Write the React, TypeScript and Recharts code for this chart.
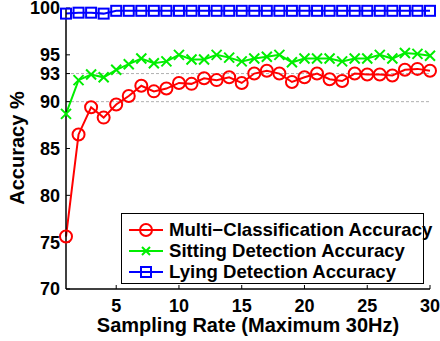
import React from "react";
import {
  LineChart,
  Line,
  XAxis,
  YAxis,
  ReferenceLine,
  Legend,
  Label,
} from "recharts";

// sampling rate (Hz) on the x axis
const rates = [
  1, 2, 3, 4, 5, 6, 7, 8, 9, 10, 11, 12, 13, 14, 15, 16, 17, 18, 19, 20, 21,
  22, 23, 24, 25, 26, 27, 28, 29, 30,
];

const multiAcc = [
  75.6, 86.5, 89.4, 88.3, 89.7, 90.6, 91.7, 91.1, 91.4, 92.0, 91.9, 92.5, 92.3,
  92.6, 92.0, 93.0, 93.3, 93.0, 92.1, 92.6, 93.0, 92.4, 92.2, 93.0, 92.9, 92.9,
  92.8, 93.4, 93.5, 93.3,
];

const sittingAcc = [
  88.7, 92.3, 92.9, 92.6, 93.4, 94.0, 94.6, 94.1, 94.3, 95.0, 94.5, 94.5, 95.0,
  94.7, 94.3, 94.6, 94.8, 95.0, 94.2, 94.6, 94.6, 94.6, 94.3, 94.6, 94.6, 95.0,
  94.6, 95.2, 95.1, 94.9,
];

const lyingAcc = [
  99.4, 99.5, 99.5, 99.4, 99.7, 99.7, 99.7, 99.7, 99.7, 99.7, 99.7, 99.7, 99.7,
  99.7, 99.7, 99.7, 99.7, 99.7, 99.7, 99.7, 99.7, 99.7, 99.7, 99.7, 99.7, 99.7,
  99.7, 99.7, 99.7, 99.7,
];

const xTicks = [5, 10, 15, 20, 25, 30];
const yTicks = [70, 75, 80, 85, 90, 93, 95, 100];
const gridLevels = [90, 93];

const seriesNames = [
  "Multi\u2212Classification Accuracy",
  "Sitting Detection Accuracy",
  "Lying Detection Accuracy",
];

const RED = "#ff0000";
const GREEN = "#00ee00";
const BLUE = "#0000ff";
const FONT = '"Liberation Sans", Arial, Helvetica, sans-serif';

const data = rates.map((r, i) => ({
  rate: r,
  multi: multiAcc[i],
  sitting: sittingAcc[i],
  lying: lyingAcc[i],
}));

const CrossDot = (props: any) => {
  const { cx, cy } = props;
  if (cx == null || cy == null) return null;
  const s = 5;
  return (
    <path
      d={`M${cx - s},${cy - s}L${cx + s},${cy + s}M${cx - s},${cy + s}L${cx + s},${cy - s}`}
      stroke={GREEN}
      strokeWidth={2}
      fill="none"
    />
  );
};

const SquareDot = (props: any) => {
  const { cx, cy } = props;
  if (cx == null || cy == null) return null;
  return (
    <rect
      x={cx - 5}
      y={cy - 5}
      width={10}
      height={10}
      fill="none"
      stroke={BLUE}
      strokeWidth={2}
    />
  );
};

function LegendIcon({ kind, color }: { kind: string; color: string }) {
  return (
    <svg width={36} height={16} style={{ marginRight: 5, flexShrink: 0 }}>
      <line x1={1} y1={8} x2={35} y2={8} stroke={color} strokeWidth={2} />
      {kind === "circle" && (
        <circle cx={18} cy={8} r={6} fill="none" stroke={color} strokeWidth={2} />
      )}
      {kind === "cross" && (
        <path d="M14,4L22,12M14,12L22,4" stroke={color} strokeWidth={2} />
      )}
      {kind === "square" && (
        <rect x={13} y={3} width={10} height={10} fill="none" stroke={color} strokeWidth={2} />
      )}
    </svg>
  );
}

const legendRows = [
  { kind: "circle", color: RED },
  { kind: "cross", color: GREEN },
  { kind: "square", color: BLUE },
];

function LegendBox() {
  return (
    <div
      style={{
        boxSizing: "border-box",
        width: 303,
        height: 71,
        border: "1.5px solid #000",
        background: "#fff",
        padding: "5px 0 0 6px",
        fontFamily: FONT,
        fontWeight: "bold",
        fontSize: 18.6,
        color: "#000",
        textAlign: "left",
      }}
    >
      {legendRows.map((row, i) => (
        <div
          key={i}
          style={{ display: "flex", alignItems: "center", height: 21, whiteSpace: "nowrap" }}
        >
          <LegendIcon kind={row.kind} color={row.color} />
          <span>{seriesNames[i]}</span>
        </div>
      ))}
    </div>
  );
}

const tickStyle = {
  fontFamily: FONT,
  fontWeight: "bold",
  fontSize: 18,
  fill: "#000",
};

export default function App() {
  return (
    <div style={{ position: "absolute", left: 0, top: 0, background: "#fff" }}>
      <LineChart
        width={440}
        height={341}
        data={data}
        margin={{ top: 8, right: 10, left: 0, bottom: 0 }}
      >
        <XAxis
          dataKey="rate"
          type="number"
          domain={[1, 30]}
          ticks={xTicks}
          interval={0}
          height={52}
          tickSize={-4}
          tickMargin={14}
          tick={tickStyle}
          stroke="#000"
          axisLine={{ stroke: "#000", strokeWidth: 1.5 }}
          tickLine={{ stroke: "#000" }}
        >
          <Label
            value="Sampling Rate (Maximum 30Hz)"
            position="insideBottom"
            offset={9}
            style={{ fontFamily: FONT, fontWeight: "bold", fontSize: 20, fill: "#000" }}
          />
        </XAxis>
        <YAxis
          type="number"
          domain={[70, 100]}
          ticks={yTicks}
          interval={0}
          width={66}
          tickSize={-4}
          tickMargin={10}
          tick={tickStyle}
          axisLine={{ stroke: "#000", strokeWidth: 1.5 }}
          tickLine={{ stroke: "#000" }}
        >
          <Label
            content={() => (
              <text
                x={24}
                y={148}
                transform="rotate(-90 24 148)"
                textAnchor="middle"
                style={{ fontFamily: FONT, fontWeight: "bold", fontSize: 20, fill: "#000" }}
              >
                Accuracy %
              </text>
            )}
          />
        </YAxis>
        {gridLevels.map((v) => (
          <ReferenceLine
            key={v}
            y={v}
            stroke="#b0b0b0"
            strokeDasharray="3 2"
            strokeWidth={1}
          />
        ))}
        <Line
          dataKey="multi"
          name={seriesNames[0]}
          stroke={RED}
          strokeWidth={2}
          dot={{ r: 6, fill: "none", stroke: RED, strokeWidth: 2 }}
          isAnimationActive={false}
        />
        <Line
          dataKey="sitting"
          name={seriesNames[1]}
          stroke={GREEN}
          strokeWidth={2}
          dot={<CrossDot />}
          isAnimationActive={false}
        />
        <Line
          dataKey="lying"
          name={seriesNames[2]}
          stroke={BLUE}
          strokeWidth={2}
          dot={<SquareDot />}
          isAnimationActive={false}
        />
        <Legend
          layout="horizontal"
          align="center"
          verticalAlign="middle"
          content={() => <LegendBox />}
          wrapperStyle={{ left: 121, top: 213, width: 303, height: 71 }}
        />
      </LineChart>
    </div>
  );
}
